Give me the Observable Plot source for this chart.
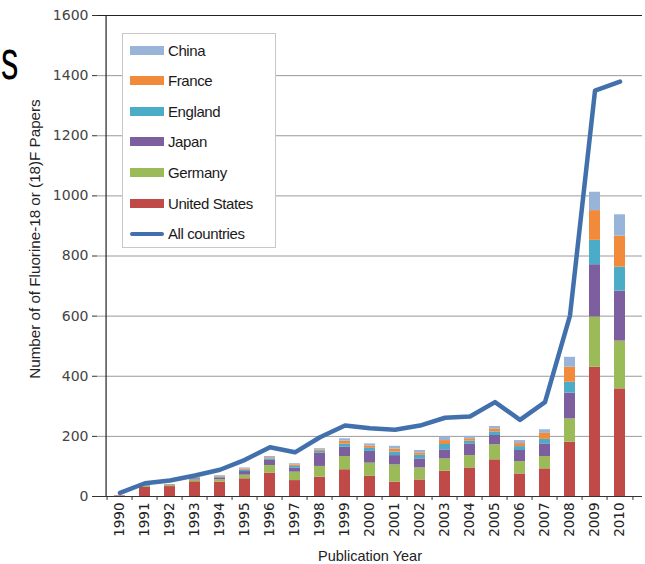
<!DOCTYPE html>
<html><head><meta charset="utf-8">
<script src="https://cdn.jsdelivr.net/npm/d3@7"></script>
<script src="https://cdn.jsdelivr.net/npm/@observablehq/plot@0.6"></script>
<style>
body{margin:0;background:#fff;}
#wrap{position:relative;width:645px;height:564px;overflow:hidden;font-family:"Liberation Sans",Arial,sans-serif;background:#fff;}
#legend{position:absolute;left:122px;top:33px;width:152px;height:213px;border:1px solid #c8c8c8;background:#fff;}
.lg{position:absolute;left:7px;height:20px;display:flex;align-items:center;font-size:15px;color:#1a1a1a;letter-spacing:-0.4px;}
.sw{width:34px;height:9px;margin-right:4px;}
.ln{width:34px;height:4px;margin-right:4px;border-radius:2px;}
#stray{position:absolute;left:1px;top:30px;font-size:56px;line-height:60px;font-family:"Liberation Sans",Arial,sans-serif;color:#000;transform:scaleX(0.62);transform-origin:0 0;}
#ytitle{position:absolute;left:34px;top:239px;transform:translate(-50%,-50%) rotate(-90deg);white-space:nowrap;font-size:15.2px;color:#222;}
#xtitle{position:absolute;left:370px;top:556px;transform:translate(-50%,-50%);white-space:nowrap;font-size:14.5px;color:#222;}
</style></head><body><div id="wrap"></div>
<script>
const years = ["1990","1991","1992","1993","1994","1995","1996","1997","1998","1999","2000","2001","2002","2003","2004","2005","2006","2007","2008","2009","2010"];
const unitedStates = [2,30,33,49,48,59,78,53,64,89,67,48,55,84,95,122,75,92,181,430,358];
const germany      = [0,3,3,6,8,12,25,28,36,44,44,57,40,41,41,50,41,41,77,167,159];
const japan        = [0,2,2,4,6,12,17,14,44,31,39,31,30,30,39,31,37,42,86,174,166];
const england      = [0,1,1,2,3,4,5,5,6,10,10,12,12,18,9,12,13,15,36,81,80];
const france       = [0,1,1,2,3,4,4,5,5,10,8,10,8,13,8,10,10,20,50,99,103];
const china        = [0,0,0,1,2,4,4,4,4,8,7,9,8,11,8,8,10,12,33,61,71];
const allCountries = [12,44,53,70,89,122,164,147,197,236,227,222,236,262,266,314,255,314,602,1350,1380];
const seriesNames = ["United States","Germany","Japan","England","France","China"];
const seriesColors = ["#bf4a47","#9bbb59","#7d5fa0","#4aacc6","#f28a3c","#98b4d8"];
const legendOrder = ["China","France","England","Japan","Germany","United States"];
const lineName = "All countries";
const yTicks = [0,200,400,600,800,1000,1200,1400,1600];
const xTitle = "Publication Year";
const yTitle = "Number of of Fluorine-18 or (18)F Papers";

const seriesValues = [unitedStates, germany, japan, england, france, china];
const rows = [];
seriesNames.forEach((s,i)=>years.forEach((y,j)=>rows.push({year:y, series:s, value:seriesValues[i][j]})));
const lineRows = years.map((y,j)=>({year:y, value:allCountries[j]}));

const W=645, H=564, mL=97, mR=3, mT=15, mB=68;
const pIn=0.58, pOut=0.33;
const step=(W-mL-mR)/(years.length - pIn + 2*pOut);
const half=step/2;
const boundaries = years.map(y=>({year:y, dx:-half})).concat([{year:years[years.length-1], dx:half}]);

const chart = Plot.plot({
  width:W, height:H, marginLeft:mL, marginRight:mR, marginTop:mT, marginBottom:mB,
  style:{fontFamily:"DejaVu Sans, sans-serif", fontSize:"13px", color:"#333", background:"white"},
  x:{type:"band", domain:years, paddingInner:pIn, paddingOuter:pOut, label:null},
  y:{domain:[0,1600], label:null},
  color:{domain:seriesNames, range:seriesColors},
  marks:[
    Plot.ruleY(yTicks.filter(t=>t>0 && t<1600), {stroke:"#9a9a9a", strokeWidth:1}),
    Plot.ruleY([1600], {stroke:"#222", strokeWidth:1.2}),
    Plot.barY(rows, {x:"year", y:"value", fill:"series", order:seriesNames}),
    Plot.ruleY([0], {stroke:"#333", strokeWidth:1.2}),
    Plot.ruleX([years[0]], {x:d=>d, y1:0, y2:1600, dx:-half-1, stroke:"#222", strokeWidth:1.2}),
    ...boundaries.map(b=>Plot.ruleX([b.year], {x:d=>d, y1:0, y2:-13, dx:b.dx, stroke:"#333"})),
    Plot.line(lineRows, {x:"year", y:"value", stroke:"#4170ad", strokeWidth:4.5, strokeLinejoin:"round", strokeLinecap:"round"}),
    Plot.axisY(yTicks, {tickSize:5, tickPadding:4, tickFormat:d=>String(d), label:null, stroke:"#333", fill:"#444", fontSize:14}),
    Plot.axisX({tickRotate:-90, tickSize:0, tickPadding:6, label:null, fill:"#222", fontSize:13.5})
  ]
});
const wrap = document.getElementById("wrap");
wrap.appendChild(chart);

const stray = document.createElement("div"); stray.id="stray"; stray.textContent="s"; wrap.appendChild(stray);
const yt = document.createElement("div"); yt.id="ytitle"; yt.textContent=yTitle; wrap.appendChild(yt);
const xt = document.createElement("div"); xt.id="xtitle"; xt.textContent=xTitle; wrap.appendChild(xt);

const lg = document.createElement("div"); lg.id="legend";
legendOrder.forEach((name,i)=>{
  const r=document.createElement("div"); r.className="lg"; r.style.top=(6+i*30.6)+"px";
  const sw=document.createElement("span"); sw.className="sw"; sw.style.background=seriesColors[seriesNames.indexOf(name)];
  r.appendChild(sw); r.appendChild(document.createTextNode(name)); lg.appendChild(r);
});
{
  const r=document.createElement("div"); r.className="lg"; r.style.top=(6+6*30.6)+"px";
  const ln=document.createElement("span"); ln.className="ln"; ln.style.background="#4170ad";
  r.appendChild(ln); r.appendChild(document.createTextNode(lineName)); lg.appendChild(r);
}
wrap.appendChild(lg);
</script></body></html>
